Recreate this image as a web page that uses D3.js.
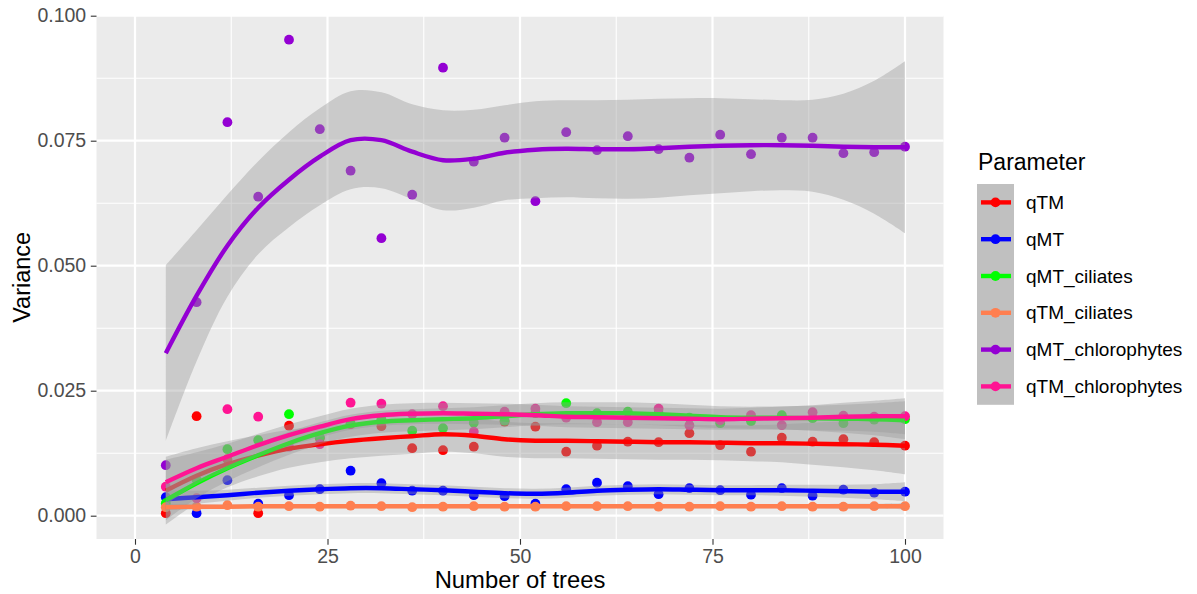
<!DOCTYPE html>
<html>
<head>
<meta charset="utf-8">
<script src="https://cdn.jsdelivr.net/npm/d3@7"></script>
<style>
  html, body { margin: 0; padding: 0; background: #ffffff; }
  svg { display: block; font-family: "Liberation Sans", Arial, Helvetica, sans-serif; }
</style>
</head>
<body>
<svg id="chart" width="1197" height="594"></svg>
<script>
// ---------- data ----------
const trees = [4, 8, 12, 16, 20, 24, 28, 32, 36, 40, 44, 48, 52, 56, 60, 64, 68, 72, 76, 80, 84, 88, 92, 96, 100];
const parameters = ["qTM", "qMT", "qMT_ciliates", "qTM_ciliates", "qMT_chlorophytes", "qTM_chlorophytes"];

// observed variances (points)
const qTM = [0.0005, 0.0199, 0.0113, 0.0005, 0.0180, 0.0155, 0.0183, 0.0179, 0.0135, 0.0131, 0.0138, 0.0188, 0.0178, 0.0128, 0.0140, 0.0148, 0.0147, 0.0165, 0.0141, 0.0128, 0.0156, 0.0148, 0.0153, 0.0147, 0.0140];
const qMT = [0.0037, 0.0005, 0.0071, 0.0024, 0.0041, 0.0053, 0.0090, 0.0065, 0.0050, 0.0050, 0.0041, 0.0039, 0.0024, 0.0053, 0.0066, 0.0059, 0.0043, 0.0055, 0.0051, 0.0042, 0.0055, 0.0040, 0.0052, 0.0046, 0.0048];
const qMT_ciliates = [0.0025, 0.0072, 0.0133, 0.0151, 0.0203, 0.0157, 0.0185, 0.0193, 0.0170, 0.0175, 0.0186, 0.0190, 0.0205, 0.0225, 0.0205, 0.0208, 0.0205, 0.0196, 0.0185, 0.0189, 0.0201, 0.0195, 0.0185, 0.0192, 0.0193];
const qTM_ciliates = [0.0017, 0.0018, 0.0021, 0.0018, 0.0019, 0.0018, 0.0020, 0.0019, 0.0017, 0.0018, 0.0019, 0.0018, 0.0018, 0.0019, 0.0019, 0.0019, 0.0018, 0.0018, 0.0019, 0.0018, 0.0019, 0.0018, 0.0018, 0.0019, 0.0019];
const qMT_chlorophytes = [0.0101, 0.0427, 0.0787, 0.0638, 0.0952, 0.0773, 0.0690, 0.0555, 0.0642, 0.0896, 0.0708, 0.0756, 0.0629, 0.0767, 0.0731, 0.0759, 0.0733, 0.0716, 0.0762, 0.0723, 0.0756, 0.0756, 0.0725, 0.0727, 0.0738];
const qTM_chlorophytes = [0.0058, 0.0035, 0.0213, 0.0198, 0.0138, 0.0143, 0.0226, 0.0224, 0.0203, 0.0219, 0.0168, 0.0208, 0.0214, 0.0196, 0.0187, 0.0187, 0.0214, 0.0181, 0.0191, 0.0201, 0.0181, 0.0207, 0.0200, 0.0198, 0.0199];

// smoothed fits
const fit_qTM = [0.0050, 0.0080, 0.0103, 0.0120, 0.0134, 0.0143, 0.0150, 0.0155, 0.0159, 0.0163, 0.0160, 0.0153, 0.0150, 0.0150, 0.0149, 0.0148, 0.0147, 0.0147, 0.0146, 0.0145, 0.0145, 0.0144, 0.0143, 0.0142, 0.0140];
const fit_qMT = [0.0033, 0.0037, 0.0041, 0.0046, 0.0050, 0.0053, 0.0055, 0.0055, 0.0053, 0.0051, 0.0048, 0.0045, 0.0044, 0.0046, 0.0050, 0.0052, 0.0053, 0.0052, 0.0051, 0.0051, 0.0051, 0.0050, 0.0049, 0.0048, 0.0048];
const fit_qMT_ciliates = [0.0031, 0.0065, 0.0095, 0.0121, 0.0145, 0.0165, 0.0180, 0.0188, 0.0191, 0.0193, 0.0195, 0.0199, 0.0203, 0.0205, 0.0205, 0.0205, 0.0203, 0.0200, 0.0197, 0.0196, 0.0196, 0.0195, 0.0194, 0.0193, 0.0191];
const fit_qTM_ciliates = [0.0017, 0.0018, 0.0018, 0.0019, 0.0019, 0.0019, 0.0019, 0.0019, 0.0019, 0.0019, 0.0019, 0.0019, 0.0019, 0.0019, 0.0019, 0.0019, 0.0019, 0.0019, 0.0019, 0.0019, 0.0019, 0.0019, 0.0019, 0.0019, 0.0019];
const fit_qMT_chlorophytes = [0.0325, 0.0440, 0.0540, 0.0616, 0.0672, 0.0718, 0.0751, 0.0751, 0.0728, 0.0711, 0.0714, 0.0726, 0.0732, 0.0734, 0.0733, 0.0733, 0.0735, 0.0738, 0.0740, 0.0741, 0.0741, 0.0740, 0.0738, 0.0737, 0.0737];
const fit_qTM_chlorophytes = [0.0067, 0.0095, 0.0118, 0.0141, 0.0161, 0.0178, 0.0193, 0.0201, 0.0204, 0.0205, 0.0204, 0.0203, 0.0201, 0.0198, 0.0197, 0.0196, 0.0195, 0.0194, 0.0193, 0.0194, 0.0195, 0.0196, 0.0198, 0.0199, 0.0199];

// confidence band half-widths
const ci_qTM = [0.0068, 0.0055, 0.0046, 0.0041, 0.0038, 0.0036, 0.0035, 0.0035, 0.0035, 0.0035, 0.0035, 0.0035, 0.0035, 0.0035, 0.0035, 0.0035, 0.0035, 0.0035, 0.0035, 0.0036, 0.0038, 0.0042, 0.0046, 0.0051, 0.0057];
const ci_qMT = [0.0018, 0.0013, 0.0011, 0.0010, 0.0010, 0.0010, 0.0010, 0.0010, 0.0010, 0.0010, 0.0010, 0.0010, 0.0010, 0.0010, 0.0010, 0.0010, 0.0010, 0.0010, 0.0010, 0.0010, 0.0011, 0.0012, 0.0013, 0.0015, 0.0019];
const ci_qMT_ciliates = [0.0040, 0.0030, 0.0026, 0.0024, 0.0023, 0.0022, 0.0022, 0.0022, 0.0022, 0.0022, 0.0022, 0.0022, 0.0022, 0.0022, 0.0022, 0.0022, 0.0022, 0.0022, 0.0022, 0.0022, 0.0023, 0.0025, 0.0028, 0.0032, 0.0038];
const ci_qTM_ciliates = [0.0006, 0.0005, 0.0004, 0.0004, 0.0004, 0.0004, 0.0004, 0.0004, 0.0004, 0.0004, 0.0004, 0.0004, 0.0004, 0.0004, 0.0004, 0.0004, 0.0004, 0.0004, 0.0004, 0.0004, 0.0004, 0.0004, 0.0005, 0.0005, 0.0006];
const ci_qMT_chlorophytes = [0.0176, 0.0131, 0.0102, 0.0093, 0.0095, 0.0097, 0.0098, 0.0096, 0.0095, 0.0100, 0.0098, 0.0095, 0.0097, 0.0097, 0.0098, 0.0099, 0.0099, 0.0097, 0.0095, 0.0092, 0.0090, 0.0092, 0.0106, 0.0133, 0.0172];
const ci_qTM_chlorophytes = [0.0045, 0.0032, 0.0026, 0.0023, 0.0022, 0.0021, 0.0021, 0.0021, 0.0021, 0.0021, 0.0021, 0.0021, 0.0021, 0.0021, 0.0021, 0.0021, 0.0021, 0.0021, 0.0021, 0.0022, 0.0023, 0.0025, 0.0028, 0.0031, 0.0036];

const xTicks = [0, 25, 50, 75, 100];
const xTickLabels = ["0", "25", "50", "75", "100"];
const yTicks = [0, 0.025, 0.05, 0.075, 0.1];
const yTickLabels = ["0.000", "0.025", "0.050", "0.075", "0.100"];

const pointSeries = [qTM, qMT, qMT_ciliates, qTM_ciliates, qMT_chlorophytes, qTM_chlorophytes];
const fitSeries = [fit_qTM, fit_qMT, fit_qMT_ciliates, fit_qTM_ciliates, fit_qMT_chlorophytes, fit_qTM_chlorophytes];
const ciSeries = [ci_qTM, ci_qMT, ci_qMT_ciliates, ci_qTM_ciliates, ci_qMT_chlorophytes, ci_qTM_chlorophytes];

// ---------- layout / style ----------
const P = { left: 96.5, right: 943.5, top: 15.7, bottom: 539 };
const palette = ["#FF0000", "#0000FF", "#00FF00", "#FF7F50", "#9400D3", "#FF1493"];
const color = d3.scaleOrdinal().domain(parameters).range(palette);

const x = d3.scaleLinear().domain([-5, 105]).range([P.left, P.right]);
const y = d3.scaleLinear().domain([-0.00466, 0.1]).range([P.bottom, P.top]);

const svg = d3.select("#chart");

svg.append("defs").append("clipPath").attr("id", "panelClip")
  .append("rect").attr("x", P.left).attr("y", P.top)
  .attr("width", P.right - P.left).attr("height", P.bottom - P.top);

// panel background
svg.append("rect").attr("x", P.left).attr("y", P.top)
  .attr("width", P.right - P.left).attr("height", P.bottom - P.top)
  .attr("fill", "#EBEBEB");

const grid = svg.append("g");
const xMinor = [12.5, 37.5, 62.5, 87.5];
const yMinor = [0.0125, 0.0375, 0.0625, 0.0875];
grid.selectAll(".xminor").data(xMinor).join("line")
  .attr("x1", d => x(d)).attr("x2", d => x(d)).attr("y1", P.top).attr("y2", P.bottom)
  .attr("stroke", "#FFFFFF").attr("stroke-width", 1.1);
grid.selectAll(".yminor").data(yMinor).join("line")
  .attr("y1", d => y(d)).attr("y2", d => y(d)).attr("x1", P.left).attr("x2", P.right)
  .attr("stroke", "#FFFFFF").attr("stroke-width", 1.1);
grid.selectAll(".xmajor").data(xTicks).join("line")
  .attr("x1", d => x(d)).attr("x2", d => x(d)).attr("y1", P.top).attr("y2", P.bottom)
  .attr("stroke", "#FFFFFF").attr("stroke-width", 2.2);
grid.selectAll(".ymajor").data(yTicks).join("line")
  .attr("y1", d => y(d)).attr("y2", d => y(d)).attr("x1", P.left).attr("x2", P.right)
  .attr("stroke", "#FFFFFF").attr("stroke-width", 2.2);

const plot = svg.append("g").attr("clip-path", "url(#panelClip)");

// points
parameters.forEach((p, i) => {
  plot.append("g").selectAll("circle")
    .data(trees.map((t, j) => ({ t, v: pointSeries[i][j] })))
    .join("circle")
    .attr("cx", d => x(d.t)).attr("cy", d => y(d.v)).attr("r", 4.9)
    .attr("fill", color(p));
});

// smooths: ribbon then line, group by group
const curve = d3.curveCatmullRom.alpha(0.5);
parameters.forEach((p, i) => {
  const rows = trees.map((t, j) => ({ t, f: fitSeries[i][j], c: ciSeries[i][j] }));
  const area = d3.area().curve(curve)
    .x(d => x(d.t)).y0(d => y(d.f - d.c)).y1(d => y(d.f + d.c));
  const line = d3.line().curve(curve).x(d => x(d.t)).y(d => y(d.f));
  plot.append("path").attr("d", area(rows)).attr("fill", "#999999").attr("fill-opacity", 0.4);
  plot.append("path").attr("d", line(rows)).attr("fill", "none")
    .attr("stroke", color(p)).attr("stroke-width", 4.4).attr("stroke-linejoin", "round");
});

// axes
const xAxis = d3.axisBottom(x).tickValues(xTicks).tickFormat((d, i) => xTickLabels[i]).tickSize(5.7).tickPadding(4.6);
const yAxis = d3.axisLeft(y).tickValues(yTicks).tickFormat((d, i) => yTickLabels[i]).tickSize(5.7).tickPadding(4.6);

const gx = svg.append("g").attr("transform", `translate(0,${P.bottom})`).call(xAxis);
const gy = svg.append("g").attr("transform", `translate(${P.left},0)`).call(yAxis);
[gx, gy].forEach(g => {
  g.select(".domain").remove();
  g.selectAll(".tick line").attr("stroke", "#333333").attr("stroke-width", 1.1);
  g.selectAll(".tick text").attr("fill", "#4D4D4D").style("font-size", "19.5px")
    .style("font-family", '"Liberation Sans", Arial, Helvetica, sans-serif');
});

// axis titles
svg.append("text").attr("x", (P.left + P.right) / 2).attr("y", 588)
  .attr("text-anchor", "middle").style("font-size", "23.8px").attr("fill", "#000")
  .text("Number of trees");
svg.append("text").attr("transform", `translate(30,${(P.top + P.bottom) / 2}) rotate(-90)`)
  .attr("text-anchor", "middle").style("font-size", "23.5px").attr("fill", "#000")
  .text("Variance");

// legend
const L = { x: 977, y: 184, keyW: 37, keyH: 36.8 };
const leg = svg.append("g");
leg.append("text").attr("x", 978).attr("y", 170).style("font-size", "23px").attr("fill", "#000").text("Parameter");
leg.append("rect").attr("x", L.x).attr("y", L.y).attr("width", L.keyW).attr("height", L.keyH * parameters.length)
  .attr("fill", "#C0C0C0");
parameters.forEach((p, i) => {
  const cy = L.y + L.keyH * (i + 0.5);
  leg.append("line").attr("x1", L.x + 4).attr("x2", L.x + L.keyW - 3).attr("y1", cy).attr("y2", cy)
    .attr("stroke", color(p)).attr("stroke-width", 4.4);
  leg.append("circle").attr("cx", L.x + L.keyW / 2).attr("cy", cy).attr("r", 4.9).attr("fill", color(p));
  leg.append("text").attr("x", 1026).attr("y", cy).attr("dy", "0.35em")
    .style("font-size", "19px").attr("fill", "#000").text(p);
});
</script>
</body>
</html>
